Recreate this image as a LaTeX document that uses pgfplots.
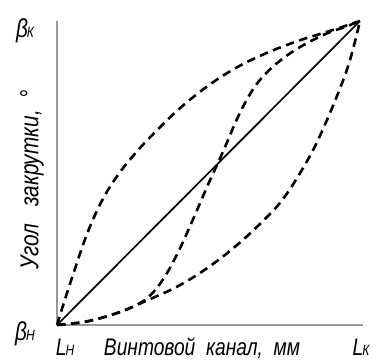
\documentclass[border=0pt]{standalone}
\usepackage{fontspec}
\setmainfont{Liberation Sans}[FakeStretch=0.8]
\usepackage{pgfplots}
\pgfplotsset{compat=1.18}
\begin{document}
\begin{tikzpicture}[font=\itshape]
\path[use as bounding box] (-57pt,-37pt) rectangle (320pt,325pt);
\begin{axis}[
  at={(0,0)}, anchor=south west,
  scale only axis, width=306pt, height=304pt,
  xmin=0, xmax=1.01, ymin=0, ymax=1,
  axis x line=bottom, axis y line=left,
  axis line style={-, draw=black!40, line width=1.1pt},
  xtick=\empty, ytick=\empty,
  clip=false,
  dashcurve/.style={black, line width=2.6pt, dash pattern=on 8.5pt off 5.5pt, smooth, tension=0.6},
]
\addplot[black, line width=1.7pt] coordinates {(0,0) (1,1)};
\addplot[dashcurve] coordinates {
 (0,0) (0.025,0.08) (0.05,0.157) (0.1,0.302) (0.15,0.412) (0.2,0.492)
 (0.25,0.555) (0.3,0.61) (0.4,0.708) (0.5,0.788) (0.6,0.851) (0.7,0.898)
 (0.8,0.936) (0.9,0.967) (1,1)};
\addplot[dashcurve] coordinates {
 (0,0) (0.1,0.012) (0.2,0.04) (0.3,0.082) (0.4,0.128) (0.5,0.19) (0.6,0.268)
 (0.7,0.362) (0.75,0.42) (0.8,0.496) (0.85,0.585) (0.9,0.695) (0.95,0.82)
 (0.975,0.9) (1,1)};
\addplot[dashcurve] coordinates {
 (0,0) (0.1,0.012) (0.2,0.04) (0.25,0.06) (0.3,0.09) (0.35,0.15) (0.4,0.24)
 (0.45,0.35) (0.5,0.465) (0.55,0.575) (0.6,0.69) (0.65,0.78) (0.7,0.838)
 (0.75,0.88) (0.8,0.913) (0.85,0.94) (0.9,0.963) (0.95,0.98) (1,1)};
\end{axis}
\node[font=\itshape\fontsize{26}{28}\selectfont] at (-32pt,294pt) {β\hspace{-1pt}{\fontsize{15}{16}\selectfont К}};
\node[font=\itshape\fontsize{26}{28}\selectfont] at (-32pt,-9pt) {β\hspace{-1pt}{\fontsize{15}{16}\selectfont Н}};
\node[font=\itshape\fontsize{24}{28}\selectfont, inner sep=0pt, anchor=base] at (8pt,-30pt) {L\hspace{-1pt}{\fontsize{15}{16}\selectfont Н}};
\node[font=\itshape\fontsize{24}{28}\selectfont, inner sep=0pt, anchor=base] at (304pt,-30pt) {L\hspace{-1pt}{\fontsize{15}{16}\selectfont К}};
\node[font=\itshape\fontsize{24}{28}\selectfont, inner sep=0pt, anchor=base] at (145pt,-30pt) {Винтовой\ \ канал,\ \ мм};
\node[font=\itshape\fontsize{26}{28}\selectfont, rotate=90] at (-25pt,145pt) {Угол\ \ \ закрутки,\ \ °};
\end{tikzpicture}
\end{document}
